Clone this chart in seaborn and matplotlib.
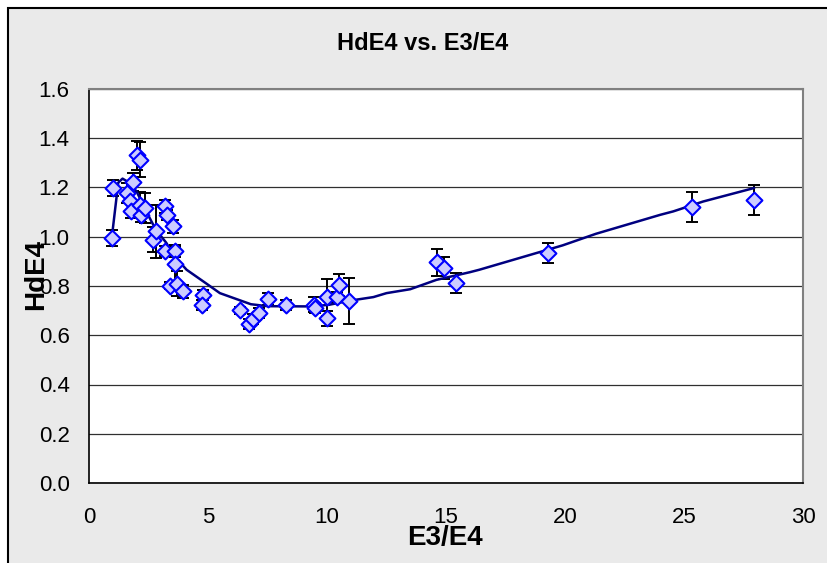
import matplotlib
matplotlib.use('Agg')
import matplotlib.pyplot as plt
from matplotlib.patches import Rectangle
from matplotlib.ticker import MultipleLocator
import numpy as np
import pandas as pd
import seaborn as sns

# measured points
ratio = [0.95, 1.02, 1.58, 1.72, 1.75, 1.83, 2.03, 2.14, 2.14, 2.17, 2.35, 2.70, 2.82,
         3.19, 3.29, 3.54, 3.19, 3.61, 3.61, 3.40, 3.68, 3.94, 4.80, 4.73,
         6.34, 6.74, 6.90, 7.14, 7.53, 8.28, 9.47, 9.50, 10.01, 10.01, 10.43, 10.52, 10.92,
         14.61, 14.93, 15.42, 19.30, 25.32, 27.95]
hde4 = [0.995, 1.198, 1.178, 1.144, 1.106, 1.222, 1.330, 1.313, 1.130, 1.089, 1.117, 0.988, 1.022,
        1.123, 1.089, 1.042, 0.943, 0.943, 0.889, 0.802, 0.809, 0.778, 0.764, 0.724,
        0.701, 0.646, 0.665, 0.692, 0.747, 0.724, 0.724, 0.710, 0.669, 0.755, 0.755, 0.805, 0.740,
        0.896, 0.873, 0.812, 0.934, 1.121, 1.150]
err = [0.032, 0.033, 0.04, 0.04, 0.03, 0.035, 0.06, 0.07, 0.05, 0.03, 0.06, 0.05, 0.107,
       0.025, 0.02, 0.025, 0.02, 0.025, 0.07, 0.015, 0.05, 0.025, 0.02, 0.02,
       0.015, 0.02, 0.02, 0.02, 0.025, 0.02, 0.03, 0.02, 0.03, 0.075, 0.02, 0.045, 0.093,
       0.055, 0.045, 0.04, 0.04, 0.061, 0.062]

# smoothed curve
fit_x = [0.95, 1.23, 1.41, 1.6, 2.0, 2.42, 2.8, 3.25, 3.55, 4.1, 4.9, 5.5, 6.8, 7.5, 9.4,
         10.1, 11.0, 11.95, 12.5, 13.5, 14.6, 16.0, 16.4, 19.9, 21.3, 24.0, 24.55, 25.8, 27.95]
fit_y = [0.99, 1.22, 1.236, 1.225, 1.184, 1.10, 1.03, 0.975, 0.925, 0.866, 0.812, 0.771, 0.726,
         0.718, 0.717, 0.724, 0.741, 0.755, 0.771, 0.787, 0.825, 0.856, 0.866, 0.965, 1.012,
         1.089, 1.103, 1.143, 1.198]

df = pd.DataFrame({'E3/E4': ratio, 'HdE4': hde4, 'err': err})
fit = pd.DataFrame({'x': fit_x, 'y': fit_y})

sns.set_style('white')
plt.rcParams['font.family'] = ['Liberation Sans', 'DejaVu Sans']
plt.rcParams['text.color'] = 'black'
plt.rcParams['xtick.color'] = 'black'
plt.rcParams['ytick.color'] = 'black'

fig = plt.figure(figsize=(8.27, 5.63), dpi=100, facecolor='white')
fig.patches.append(Rectangle((8 / 827, -0.01), 1.0, 1 - 8 / 563 + 0.01, transform=fig.transFigure,
                             facecolor='#eaeaea', edgecolor='black', lw=1.5, zorder=-10))
ax = fig.add_axes([89 / 827, 80 / 563, 714 / 827, 394 / 563])
ax.set_facecolor('white')

ax.errorbar(df['E3/E4'], df['HdE4'], yerr=df['err'], fmt='none', ecolor='black',
            elinewidth=1.4, capsize=4.5, capthick=1.4, zorder=2)
sns.lineplot(data=fit, x='x', y='y', color='#000080', lw=1.8, sort=False, ax=ax, zorder=3)
sns.scatterplot(data=df, x='E3/E4', y='HdE4', marker='D', s=65, color='#ccccff',
                edgecolor='#0000ff', linewidth=1.5, ax=ax, zorder=4)

ax.set_xlim(0, 30)
ax.set_ylim(0, 1.6)
ax.xaxis.set_major_locator(MultipleLocator(5))
ax.xaxis.set_minor_locator(MultipleLocator(1))
ax.yaxis.set_major_locator(MultipleLocator(0.2))
ax.yaxis.set_minor_locator(MultipleLocator(0.04))
ax.set_yticks(np.arange(0, 1.61, 0.2))
ax.set_yticklabels([f'{v:.1f}' for v in np.arange(0, 1.61, 0.2)])
ax.grid(axis='y', which='major', color='#303030', lw=0.9)
ax.set_axisbelow(True)

ax.tick_params(axis='both', which='major', direction='out', length=9, width=1, labelsize=16, pad=5)
ax.tick_params(axis='both', which='minor', direction='in', length=5, width=1)
ax.tick_params(axis='x', which='major', pad=8)
for s in ['left', 'bottom']:
    ax.spines[s].set_color('black')
    ax.spines[s].set_linewidth(1.2)
for s in ['top', 'right']:
    ax.spines[s].set_color('#808080')
    ax.spines[s].set_linewidth(1.5)

ax.set_xlabel('')
ax.set_ylabel('')
fig.text(445 / 827, 1 - 538 / 563, 'E3/E4', fontsize=20, fontweight='bold', ha='center', va='center')
fig.text(36 / 827, 1 - 275 / 563, 'HdE4', fontsize=20, fontweight='bold', ha='center', va='center',
         rotation=90)
fig.text(423 / 827, 1 - 43 / 563, 'HdE4 vs. E3/E4', fontsize=17, fontweight='bold',
         ha='center', va='center')

fig.savefig('out.png', dpi=100, facecolor=fig.get_facecolor())
